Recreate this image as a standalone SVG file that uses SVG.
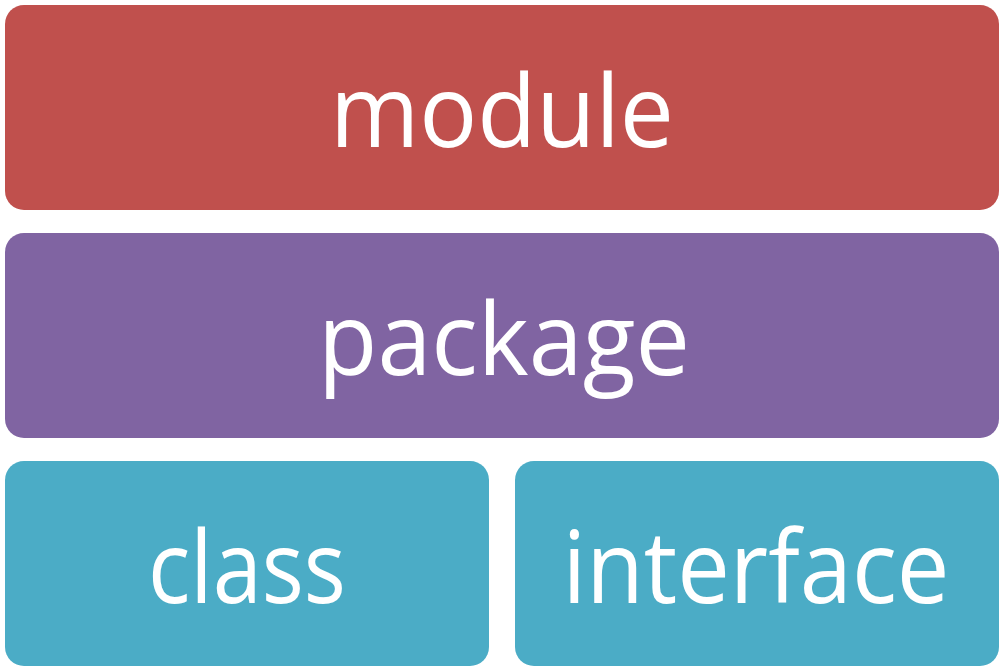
<svg xmlns="http://www.w3.org/2000/svg" width="1004" height="671" viewBox="0 0 1004 671">
<style>
.lbl{font-family:"Open Sans","Noto Sans",sans-serif;font-size:100px;fill:#ffffff;text-anchor:middle}
</style>
<rect width="1004" height="671" fill="#ffffff"/>
<g id="module">
<rect x="5" y="5" width="994" height="205" rx="19" fill="#C0504D"/>
<text class="lbl" x="502" y="147" textLength="344" lengthAdjust="spacingAndGlyphs">module</text>
</g>
<g id="package">
<rect x="5" y="233" width="994" height="205" rx="19" fill="#8064A2"/>
<text class="lbl" x="504" y="375" textLength="372" lengthAdjust="spacingAndGlyphs">package</text>
</g>
<g id="class">
<rect x="5" y="461" width="484" height="205" rx="19" fill="#4BACC6"/>
<text class="lbl" x="247" y="603" textLength="198" lengthAdjust="spacingAndGlyphs">class</text>
</g>
<g id="interface">
<rect x="515" y="461" width="484" height="205" rx="19" fill="#4BACC6"/>
<text class="lbl" x="756" y="603" textLength="387" lengthAdjust="spacingAndGlyphs">interface</text>
</g>
<g id="connectors"></g>
</svg>
